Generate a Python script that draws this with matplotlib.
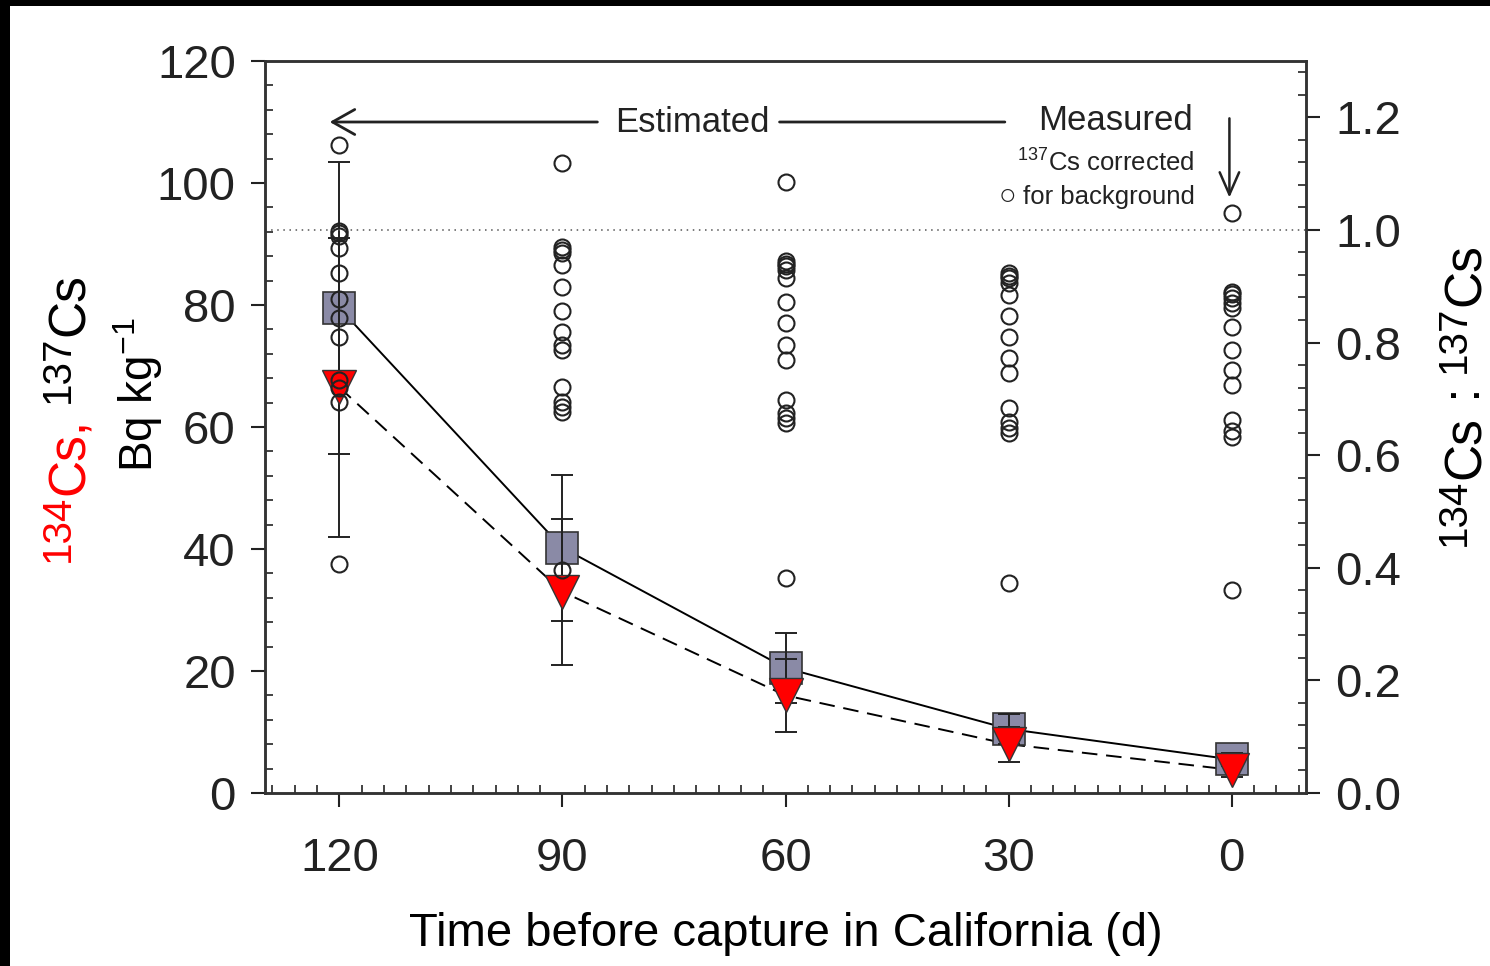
import matplotlib
matplotlib.use('Agg')
import matplotlib.pyplot as plt
from matplotlib.patches import Rectangle
from matplotlib.ticker import MultipleLocator

plt.rcParams['font.family'] = ['Liberation Sans', 'DejaVu Sans']
plt.rcParams['mathtext.default'] = 'regular'

# data
days = [120, 90, 60, 30, 0]
cs137_mean = [79.5, 40.2, 20.5, 10.5, 5.5]
cs137_err = [24.0, 12.0, 5.8, 2.5, 1.0]
cs134_mean = [66.5, 33.0, 16.0, 8.0, 3.8]
cs134_err = [24.5, 12.0, 6.0, 2.9, 1.2]

circ_120 = [106.2, 92.2, 91.8, 91.3, 89.3, 85.3, 81.0, 77.9, 74.8, 67.7, 66.4, 64.1, 37.5]
circ_90 = [103.3, 89.5, 89.0, 88.5, 86.6, 83.0, 79.0, 75.6, 73.4, 72.6, 66.6, 64.1, 63.3, 62.5, 36.6]
circ_60 = [100.2, 87.2, 86.8, 86.4, 85.7, 84.4, 80.5, 77.0, 73.4, 71.0, 64.4, 62.3, 61.5, 60.7, 35.3]
circ_30 = [85.2, 84.8, 84.4, 83.6, 81.6, 78.2, 74.8, 71.3, 68.9, 63.1, 60.8, 59.8, 59.0, 34.4]
circ_0 = [95.1, 82.2, 81.8, 81.2, 80.3, 79.5, 76.4, 72.6, 69.3, 66.9, 61.1, 59.3, 58.4, 33.3]
circles = {120: circ_120, 90: circ_90, 60: circ_60, 30: circ_30, 0: circ_0}

W, H = 1490, 966
fig = plt.figure(figsize=(W / 100, H / 100), dpi=100, facecolor='black')
fig.patches.append(Rectangle((10 / W, 0), 1, 1 - 6 / H, transform=fig.transFigure,
                             facecolor='white', edgecolor='none', zorder=-10))

ax = fig.add_axes([265 / W, 1 - 793 / H, (1306 - 265) / W, (793 - 61) / H])
ax2 = ax.twinx()

# connecting lines
ax.plot(days, cs137_mean, color='black', lw=1.4, zorder=2)
ax.plot(days, cs134_mean, color='black', lw=1.4, ls=(0, (8, 4.5)), zorder=2)

# squares + their error bars
ax.plot(days, cs137_mean, ls='none', marker='s', ms=23, mfc='#8a8aa6', mec='#333333', mew=1.2, zorder=3)
ax.errorbar(days, cs137_mean, yerr=cs137_err, fmt='none', ecolor='#222222', elinewidth=1.4,
            capsize=8, capthick=1.4, zorder=4)
# triangles + error bars
ax.plot(days, cs134_mean, ls='none', marker='v', ms=24, mfc='#ff0000', mec='#333333', mew=1.0, zorder=5)
ax.errorbar(days, cs134_mean, yerr=cs134_err, fmt='none', ecolor='#222222', elinewidth=1.4,
            capsize=8, capthick=1.4, zorder=4)

# individual fish
for d in days:
    ax.plot([d] * len(circles[d]), circles[d], ls='none', marker='o', ms=11.5, mfc='none',
            mec='#222222', mew=1.5, zorder=6)

ax.set_xlim(130, -10)
ax.set_ylim(0, 120)
ax2.set_ylim(0, 1.3)
ax2.axhline(1.0, color='#555555', lw=1.1, ls=(0, (1, 3)), zorder=1)

ax.set_xticks(days)
ax.xaxis.set_minor_locator(MultipleLocator(3))
ax.yaxis.set_major_locator(MultipleLocator(20))
ax.yaxis.set_minor_locator(MultipleLocator(4))
ax2.set_yticks([0.0, 0.2, 0.4, 0.6, 0.8, 1.0, 1.2])
ax2.set_yticklabels(['0.0', '0.2', '0.4', '0.6', '0.8', '1.0', '1.2'])
ax2.yaxis.set_minor_locator(MultipleLocator(0.04))

ax.tick_params(which='major', direction='out', length=10, width=1.5, labelsize=34, colors='#222222')
ax.tick_params(axis='y', which='major', pad=11)
ax.tick_params(axis='x', which='major', pad=22)
ax.tick_params(which='minor', direction='in', length=6, width=1.2, colors='#222222')
ax.tick_params(right=False, top=False, which='both')
ax2.tick_params(which='major', direction='out', length=10, width=1.5, labelsize=34, pad=11, colors='#222222')
ax2.tick_params(which='minor', direction='in', length=6, width=1.2, colors='#222222')

for a in (ax, ax2):
    for s in a.spines.values():
        s.set_linewidth(1.8)
        s.set_color('#333333')

ax.set_xlabel('Time before capture in California (d)', fontsize=34, labelpad=22)

# rotated labels built from pieces: (text, size, colour, raised)
renderer = fig.canvas.get_renderer()


def vlabel(x_base, y_start, pieces, rise=15):
    y = y_start
    for txt, fs, col, sup in pieces:
        xb = x_base - rise if sup else x_base
        t = fig.text(xb / W, 1 - y / H, txt, rotation=90, rotation_mode='anchor',
                     ha='left', va='baseline', fontsize=fs, color=col)
        bb = t.get_window_extent(renderer)
        y -= bb.height


vlabel(84, 562, [('134', 29, '#ff0000', True), ('Cs,', 37, '#ff0000', False),
                 (' ', 37, 'black', False), ('137', 29, 'black', True), ('Cs', 37, 'black', False)])
fig.text(138 / W, 1 - 395 / H, 'Bq kg$^{-1}$', rotation=90, color='black', fontsize=33,
         ha='center', va='center')
vlabel(1480, 546, [('134', 29, 'black', True), ('Cs', 37, 'black', False), (' : ', 37, 'black', False),
                   ('137', 29, 'black', True), ('Cs', 37, 'black', False)])

# annotations
ax.text(72.5, 110.0, 'Estimated', fontsize=25, ha='center', va='center', color='#222222')
ax.annotate('', xy=(121.3, 110.0), xytext=(85.3, 110.0),
            arrowprops=dict(arrowstyle='->,head_length=0.8,head_width=0.45', lw=2.0,
                            color='#222222', mutation_scale=20, shrinkA=0, shrinkB=0))
ax.annotate('', xy=(30.5, 110.0), xytext=(60.8, 110.0),
            arrowprops=dict(arrowstyle='-', lw=2.0, color='#222222', shrinkA=0, shrinkB=0))
ax.text(5.2, 110.2, 'Measured', fontsize=25, ha='right', va='center', color='#222222')
ax.text(5.0, 103.3, '$^{137}$Cs corrected', fontsize=18.5, ha='right', va='center', color='#222222')
ax.text(5.0, 97.7, 'for background', fontsize=18.5, ha='right', va='center', color='#222222')
ax.text(30.1, 97.9, '\u25cb', fontsize=21, ha='center', va='center', color='#222222')
ax.annotate('', xy=(0.3, 97.6), xytext=(0.3, 110.6),
            arrowprops=dict(arrowstyle='->,head_length=0.8,head_width=0.35', lw=1.8,
                            color='#222222', mutation_scale=20, shrinkA=0, shrinkB=0))

fig.savefig('out.png', dpi=100, facecolor=fig.get_facecolor())
